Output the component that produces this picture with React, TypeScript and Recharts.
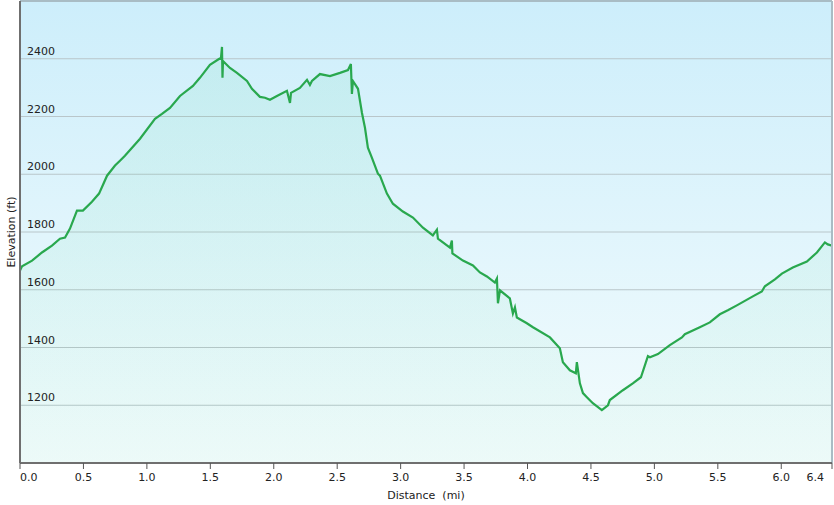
import React from 'react'
import { AreaChart, Area, XAxis, YAxis, CartesianGrid, ReferenceLine } from 'recharts'

// distance along the track (mi)
const distance = [
  0.0, 0.016, 0.095, 0.173, 0.252, 0.315, 0.355, 0.394, 0.449, 0.496,
  0.567, 0.623, 0.686, 0.749, 0.788, 0.827, 0.946, 1.064, 1.119, 1.182,
  1.261, 1.363, 1.418, 1.497, 1.568, 1.584, 1.592, 1.596, 1.6, 1.655,
  1.71, 1.789, 1.828, 1.891, 1.931, 1.97, 2.025, 2.104, 2.128, 2.136,
  2.206, 2.262, 2.285, 2.301, 2.364, 2.443, 2.522, 2.585, 2.608, 2.616,
  2.624, 2.664, 2.695, 2.719, 2.742, 2.774, 2.821, 2.837, 2.892, 2.939,
  3.018, 3.097, 3.176, 3.254, 3.286, 3.294, 3.389, 3.404, 3.408, 3.491,
  3.57, 3.625, 3.68, 3.743, 3.759, 3.767, 3.783, 3.861, 3.885, 3.901,
  3.916, 3.995, 4.043, 4.177, 4.255, 4.279, 4.334, 4.381, 4.389, 4.413,
  4.437, 4.468, 4.515, 4.586, 4.634, 4.649, 4.752, 4.83, 4.894, 4.949,
  4.965, 5.028, 5.122, 5.217, 5.24, 5.358, 5.437, 5.516, 5.579, 5.65,
  5.776, 5.847, 5.871, 5.95, 6.005, 6.091, 6.202, 6.281, 6.344, 6.367,
  6.4,
]

// elevation (ft)
const elevation = [
  1667, 1681, 1701, 1729, 1753, 1777, 1781, 1812, 1874, 1874,
  1905, 1933, 1995, 2030, 2047, 2064, 2123, 2192, 2209, 2230,
  2271, 2306, 2334, 2379, 2399, 2403, 2441, 2334, 2392, 2368,
  2351, 2323, 2296, 2268, 2265, 2258, 2271, 2289, 2247, 2282,
  2299, 2327, 2309, 2323, 2347, 2340, 2351, 2361, 2382, 2278,
  2323, 2296, 2213, 2161, 2092, 2057, 2002, 1995, 1933, 1898,
  1871, 1850, 1815, 1788, 1808, 1777, 1746, 1770, 1726, 1701,
  1684, 1660, 1646, 1625, 1639, 1553, 1598, 1570, 1518, 1539,
  1504, 1484, 1470, 1435, 1397, 1349, 1321, 1311, 1349, 1276,
  1242, 1228, 1207, 1183, 1200, 1218, 1252, 1276, 1297, 1370,
  1366, 1377, 1408, 1435, 1446, 1470, 1487, 1515, 1529, 1546,
  1577, 1594, 1612, 1636, 1656, 1677, 1698, 1729, 1764, 1757,
  1753,
]

const xTicks = [0, 0.5, 1, 1.5, 2, 2.5, 3, 3.5, 4, 4.5, 5, 5.5, 6, 6.4]
const yTicks = [1200, 1400, 1600, 1800, 2000, 2200, 2400]

const data = distance.map((d, i) => ({ d, e: elevation[i] }))

const font = 'DejaVu Sans, Verdana, sans-serif'

const XTick = (props: any) => {
  const { x, y, payload } = props
  const v = payload.value
  let anchor = 'middle'
  if (v === 0) anchor = 'start'
  if (v === 6.4) anchor = 'end'
  return (
    <text x={x} y={y} dy={10} textAnchor={anchor} fontSize={11} fontFamily={font} fill="#222">
      {v.toFixed(1)}
    </text>
  )
}

// labels sit inside the plot, just above their grid line
const YTick = (props: any) => {
  const { y, payload } = props
  return (
    <text x={27} y={y} dy={-4} textAnchor="start" fontSize={11} fontFamily={font} fill="#222">
      {payload.value}
    </text>
  )
}

export default function App() {
  return (
    <div style={{ position: 'absolute', left: 0, top: 0, width: 834, height: 505, background: '#fff' }}>
      <AreaChart width={834} height={505} data={data} margin={{ top: 1, right: 2, left: 0, bottom: 12 }}>
        <defs>
          <linearGradient id="bg" x1="0" y1="0" x2="0" y2="1">
            <stop offset="0%" stopColor="#cdeefb" />
            <stop offset="100%" stopColor="#f4fcfd" />
          </linearGradient>
          <linearGradient id="fillArea" x1="0" y1="0" x2="0" y2="1">
            <stop offset="0%" stopColor="#3fd08a" stopOpacity={0.16} />
            <stop offset="100%" stopColor="#3fd08a" stopOpacity={0.07} />
          </linearGradient>
        </defs>
        <CartesianGrid vertical={false} stroke="#b9c6ca" strokeWidth={1} fill="url(#bg)" />
        <XAxis
          dataKey="d"
          type="number"
          domain={[0, 6.4]}
          ticks={xTicks}
          allowDataOverflow
          stroke="#6f6f6f"
          strokeWidth={2}
          tickSize={6}
          tickLine={{ stroke: '#555', strokeWidth: 1 }}
          tick={<XTick />}
          height={30}
        />
        <YAxis
          type="number"
          domain={[1000, 2600]}
          ticks={yTicks}
          allowDataOverflow
          width={20}
          stroke="#6f6f6f"
          strokeWidth={2}
          tickLine={false}
          tick={<YTick />}
        />
        <ReferenceLine y={2600} stroke="#a9bcc4" strokeWidth={2} />
        <ReferenceLine x={6.4} stroke="#a9bcc4" strokeWidth={2} />
        <Area
          type="linear"
          dataKey="e"
          stroke="#29a84e"
          strokeWidth={2.2}
          fill="url(#fillArea)"
          baseValue={1000}
          dot={false}
          activeDot={false}
          isAnimationActive={false}
        />
      </AreaChart>
      <div
        style={{
          position: 'absolute',
          left: 0,
          width: 852,
          top: 489,
          textAlign: 'center',
          fontFamily: font,
          fontSize: 11,
          color: '#222',
          whiteSpace: 'pre',
        }}
      >
        {'Distance  (mi)'}
      </div>
      <div
        style={{
          position: 'absolute',
          left: 11,
          top: 232,
          transform: 'translate(-50%, -50%) rotate(-90deg)',
          fontFamily: font,
          fontSize: 11,
          color: '#222',
          whiteSpace: 'pre',
        }}
      >
        {'Elevation (ft)'}
      </div>
    </div>
  )
}
